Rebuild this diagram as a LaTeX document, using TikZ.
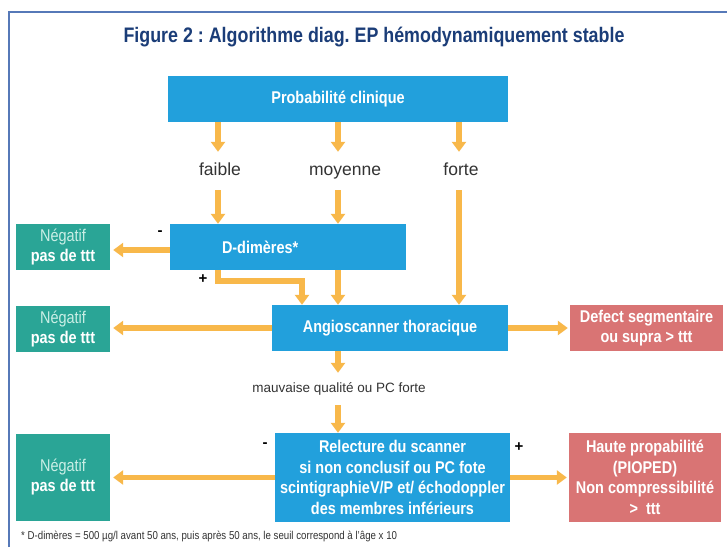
\documentclass[tikz,border=0pt]{standalone}
\usepackage{fontspec}
\setmainfont{Liberation Sans}
\newfontfamily\cond[FakeStretch=0.85]{Liberation Sans}
\usetikzlibrary{arrows.meta,calc}
\definecolor{boxblue}{HTML}{22A0DC}
\definecolor{boxteal}{HTML}{2AA596}
\definecolor{boxred}{HTML}{D97474}
\definecolor{arrowc}{HTML}{F8B84A}
\definecolor{navy}{HTML}{1B3D78}
\definecolor{framec}{HTML}{5679B8}
\definecolor{paleteal}{HTML}{CBEFE6}
\definecolor{labgray}{HTML}{333333}
\frenchspacing
\tikzset{
  boxbase/.style={draw=none, text=white, align=center, inner sep=0pt,
    font=\cond\bfseries\fontsize{17}{20.5}\selectfont},
  bluebox/.style={boxbase, fill=boxblue},
  tealbox/.style={boxbase, fill=boxteal},
  redbox/.style={boxbase, fill=boxred},
  lab/.style={inner sep=0pt, text=labgray, text height=12pt, text depth=3.5pt,
    font=\fontsize{17.5}{20}\selectfont},
  sign/.style={inner sep=0pt, text=black, font=\bfseries\fontsize{15}{15}\selectfont},
  arr/.style={draw=arrowc, line width=5.5pt, line join=miter,
    -{Triangle[width=14pt,length=10pt]}},
}
\newcommand{\negtxt}{{\mdseries\color{paleteal}Négatif}\\pas de ttt}
\begin{document}
\begin{tikzpicture}[x=1pt,y=-1pt]
\useasboundingbox (0,0) rectangle (727,547);
\fill[white] (0,0) rectangle (727,547);
% frame
\draw[framec, line width=2pt] (8.5,547) -- (8.5,12) -- (727,12);
% title
\node[text=navy, font=\cond\bfseries\fontsize{21}{24}\selectfont, inner sep=0pt]
  (title) at (374,37) {Figure 2 : Algorithme diag. EP hémodynamiquement stable};
% column coordinates
\coordinate (cA) at (218,0);
\coordinate (cB) at (338,0);
\coordinate (cC) at (459,0);
\coordinate (cD) at (302,0);
% boxes
\node[bluebox, minimum width=340pt, minimum height=46pt] (prob) at (338,99) {Probabilité clinique};
\node[bluebox, minimum width=236pt, minimum height=46pt, text width=236pt, align=left] (dd) at (288,247) {\hspace*{52pt}D-dimères*};
\node[bluebox, minimum width=236pt, minimum height=46pt] (angio) at (390,328) {Angioscanner thoracique};
\node[bluebox, minimum width=235pt, minimum height=89pt] (rel) at (392.5,477.5) {Relecture du scanner\\si non conclusif ou PC fote\\scintigraphieV/P et/ échodoppler\\des membres inférieurs};
\node[tealbox, minimum width=94pt, minimum height=46pt] (neg1) at (63,247) {\negtxt};
\node[tealbox, minimum width=94pt, minimum height=46pt] (neg2) at (63,329) {\negtxt};
\node[tealbox, minimum width=94pt, minimum height=87pt] (neg3) at (63,477) {\negtxt};
\node[redbox, minimum width=153pt, minimum height=46pt] (defect) at (646.5,328) {Defect segmentaire\\ou supra > ttt};
\node[redbox, minimum width=152pt, minimum height=89pt] (haute) at (645,477.5) {Haute propabilité\\(PIOPED)\\Non compressibilité\\> \ ttt};
% labels
\node[lab, minimum height=38pt] (faible) at (220,171) {faible};
\node[lab, minimum height=38pt] (moyenne) at (345,171) {moyenne};
\node[lab, minimum height=38pt] (forte) at (461,171) {forte};
\node[lab, font=\fontsize{13.5}{16}\selectfont, text height=10pt, text depth=3pt, minimum height=32pt] (mauv) at (339,389) {mauvaise qualité ou PC forte};
% signs
\node[sign] (m1) at (160,233) {-};
\node[sign] (p1) at (203,279) {+};
\node[sign] (m2) at (265,445) {-};
\node[sign] (p2) at (519,447) {+};
% arrows
\draw[arr] (prob.south -| cA) -- (faible.north -| cA);
\draw[arr] (prob.south -| cB) -- (moyenne.north -| cB);
\draw[arr] (prob.south -| cC) -- (forte.north -| cC);
\draw[arr] (faible.south -| cA) -- (dd.north -| cA);
\draw[arr] (moyenne.south -| cB) -- (dd.north -| cB);
\draw[arr] (forte.south -| cC) -- (angio.north -| cC);
\draw[arr] ([yshift=-3pt]dd.west) -- ([xshift=3pt,yshift=-3pt]neg1.east);
\draw[arr] (dd.south -| cA) -- ++(0,11) -| (angio.north -| cD);
\draw[arr] (dd.south -| cB) -- (angio.north -| cB);
\draw[arr] (angio.west) -- ([xshift=3pt]neg2.east |- angio.west);
\draw[arr] (angio.east) -- ([xshift=-2pt]defect.west);
\draw[arr] (angio.south -| cB) -- (mauv.north -| cB);
\draw[arr] (mauv.south -| cB) -- (rel.north -| cB);
\draw[arr] (rel.west) -- ([xshift=3pt]neg3.east |- rel.west);
\draw[arr] (rel.east) -- ([xshift=-2pt]haute.west |- rel.east);
% footnote
\node[anchor=west, inner sep=0pt, text=labgray, font=\cond\fontsize{11.4}{13}\selectfont] (foot) at (21,536)
  {* D-dimères = 500 µg/l avant 50 ans, puis après 50 ans, le seuil correspond à l’âge x 10};
\end{tikzpicture}
\end{document}
